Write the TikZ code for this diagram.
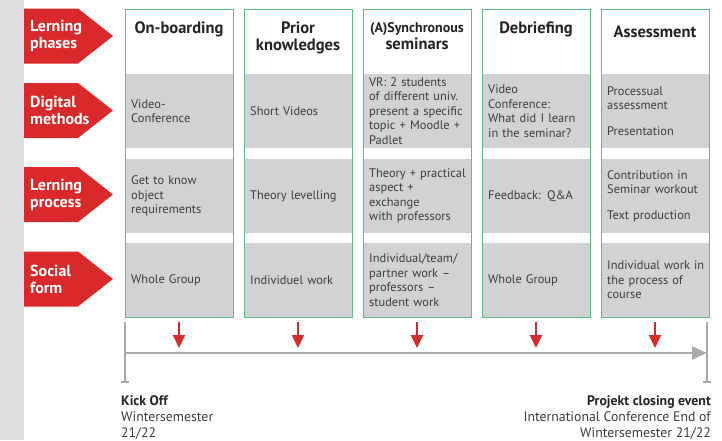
\documentclass[tikz,border=0pt]{standalone}
\usepackage{fontspec}
\setmainfont{PT Sans}
\usetikzlibrary{positioning}
\usetikzlibrary{arrows.meta}
\definecolor{phasered}{RGB}{217,41,43}
\definecolor{boxgreen}{RGB}{92,190,135}
\definecolor{cellgray}{RGB}{209,210,212}
\definecolor{stripgray}{RGB}{221,222,223}
\definecolor{linegray}{RGB}{170,170,172}
\definecolor{textgray}{RGB}{60,60,60}
\definecolor{headgray}{RGB}{35,35,35}
\tikzstyle{phaselabel}=[font=\bfseries\fontsize{16}{17}\selectfont, text=white, align=left, anchor=west, inner sep=0pt]
\tikzstyle{cell}=[fill=cellgray, minimum width=108pt, inner sep=0pt, anchor=north west]
\tikzstyle{celltext}=[font=\fontsize{12.4}{14.5}\selectfont, text=textgray, text width=104pt, align=left, anchor=west, inner sep=0pt]
\tikzstyle{phasebox}=[draw=boxgreen, line width=1.2pt, minimum width=108pt, minimum height=308pt, anchor=north west, inner sep=0pt]
\tikzstyle{head}=[font=\bfseries\fontsize{16.5}{17}\selectfont, text=headgray, align=center, anchor=north, inner sep=0pt]
\tikzstyle{down}=[-{Triangle[length=13pt,width=12pt]}, phasered, line width=2pt]
\tikzstyle{time}=[linegray, line width=1.6pt]
\tikzstyle{event}=[font=\fontsize{13.8}{16}\selectfont, text=textgray, inner sep=0pt]

\begin{document}
\begin{tikzpicture}[x=1pt, y=-1pt]
\useasboundingbox (0,0) rectangle (722,440);

%left strip
\fill[stripgray] (0,0) rectangle (24,440);

%red row labels
    \foreach \y/\name/\label in {36/phases/{Lerning\\phases}, 110.5/digital/{Digital\\methods}, 194.5/process/{Lerning\\process}, 279/social/{Social\\form}}
    {
        \fill[phasered] (24,\y-27.5) -- (78,\y-27.5) -- (113,\y) -- (78,\y+27.5) -- (24,\y+27.5) -- cycle;
        \node[phaselabel] (\name) at (30,\y) {\label};
    }

%columns
    \foreach \x/\name/\hy/\head/\dig/\proc/\soc in {
        125/onb/22/{On-boarding}/{Video-\\Conference}/{Get to know\\object\\requirements}/{Whole Group},
        244/prior/22/{Prior\\knowledges}/{Short Videos}/{Theory levelling}/{Individuel work},
        363/sync/22/{{\fontsize{14}{17}\selectfont(A)Synchronous}\\seminars}/{VR: 2 students\\of different univ.\\present a specific\\topic + Moodle +\\Padlet}/{Theory + practical\\aspect +\\exchange\\with professors}/{Individual/team/\\partner work –\\professors –\\student work},
        482/debrief/22/{Debriefing}/{Video\\Conference:\\What did I learn\\in the seminar?}/{Feedback: Q\&A}/{Whole Group},
        601/assess/26/{Assessment}/{Processual\\assessment\\[11pt]Presentation}/{Contribution in\\Seminar workout\\[11pt]Text production}/{Individual work in\\the process of\\course}}
    {
        \node[cell, minimum height=74pt] (\name-dig) at (\x,74) {};
        \node[cell, minimum height=74pt] (\name-proc) at (\x,159) {};
        \node[cell, minimum height=74pt] (\name-soc) at (\x,243) {};
        \node[phasebox] (\name) at (\x,9) {};
        \node[head] (\name-head) at (\x+54,\hy) {\head};
        \node[celltext] at (\x+6,111) {\dig};
        \node[celltext] at (\x+6,196) {\proc};
        \node[celltext] at (\x+6,280) {\soc};
        \coordinate (\name-top) at (\x+54,322);
        \coordinate (\name-bot) at (\x+54,348);
        \draw[down] (\name-top) -- (\name-bot);
    }

%timeline
\coordinate (start-top) at (125,322);
\coordinate (start-bot) at (125,382);
\coordinate (end-top) at (707,322);
\coordinate (end-bot) at (707,382);
\coordinate (line-start) at (125,353);
\coordinate (line-end) at (707,353);
\draw[time] (start-top) -- (start-bot);
\draw[time] ([xshift=-4pt]start-bot) -- ([xshift=4pt]start-bot);
\draw[time] (end-top) -- (end-bot);
\draw[time] ([xshift=-4pt]end-bot) -- ([xshift=4pt]end-bot);
\draw[time, -{Triangle[length=15pt,width=13pt]}] (line-start) -- (line-end);

\node[event, anchor=north west, align=left] (kickoff) at (121,395) {\textbf{\color{headgray}Kick Off}\\Wintersemester\\21/22};
\node[event, anchor=north east, align=right] (closing) at (711,395) {\textbf{\color{headgray}Projekt closing event}\\International Conference End of\\Wintersemester 21/22};

\end{tikzpicture}
\end{document}
